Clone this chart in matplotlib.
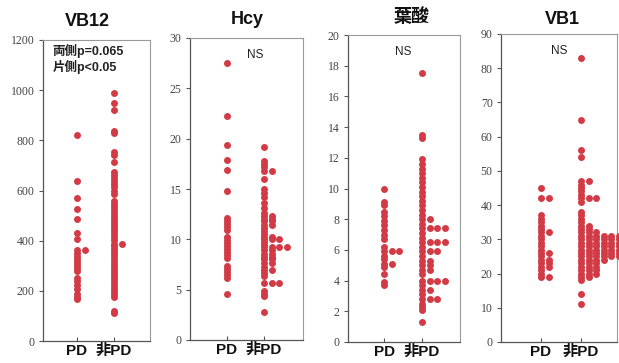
import matplotlib.pyplot as plt
import numpy as np


# Values; a repeated value is a dot stacked
# to the right of the first one.
groups = ['PD', '非PD']

vb12_pd = [822, 636, 570, 527, 485, 432, 405, 364, 364, 350, 338, 326, 314,
           302, 290, 278, 252, 240, 222, 208, 188, 176, 168]
vb12_nonpd = [987, 950, 919, 836, 830, 755, 743, 713, 673, 660, 648, 636,
              624, 612, 600, 587, 558, 546, 534, 522, 510, 498, 486, 474,
              462, 450, 438, 426, 414, 402, 388, 388, 378, 366, 354, 342,
              330, 318, 306, 294, 282, 270, 258, 246, 234, 222, 210, 198,
              186, 174, 120, 112]

hcy_pd = [27.5, 22.3, 19.4, 17.9, 16.9, 14.8, 12.1, 11.8, 11.5, 11.2, 10.9,
          10.2, 9.9, 9.6, 9.3, 9.0, 8.7, 8.4, 8.1, 7.4, 7.1, 6.8, 6.5, 6.2,
          4.6]
hcy_nonpd = [19.2, 17.8, 17.5, 17.2, 16.8, 16.8, 16.0, 15.0, 14.6, 14.2,
             13.6, 13.1, 12.6, 12.3, 12.3, 12.0, 12.0, 11.8, 11.8, 11.4, 11.4,
             11.1, 10.8, 10.5, 10.2, 10.2, 10.0, 10.0, 10.0, 9.7, 9.4,
             9.2, 9.2, 9.2, 9.2, 8.9, 8.9, 8.5, 8.5, 8.2, 8.2, 8.0, 8.0,
             7.6, 7.6, 7.3, 7.0, 7.0, 6.7, 6.4, 5.7, 5.7, 5.7, 4.9, 4.6, 4.4,
             2.8]

folate_pd = [10.0, 9.1, 8.9, 8.5, 8.2, 7.9, 7.6, 7.3, 7.0, 6.7, 6.2, 5.9, 5.9,
             5.9, 5.6, 5.4, 5.1, 5.1, 4.9, 4.4, 3.9, 3.7]
folate_nonpd = [17.5, 13.5, 13.3, 11.9, 11.6, 11.3, 11.0, 10.7, 10.4, 10.1,
                9.8, 9.5, 9.2, 8.9, 8.6, 8.3, 8.0, 8.0, 7.7, 7.4, 7.4, 7.4,
                7.4, 7.1, 6.8, 6.5, 6.5, 6.5, 6.5, 6.2, 5.9, 5.9, 5.9, 5.6,
                5.3, 5.3, 5.0, 5.0, 4.7, 4.7, 4.4, 4.0, 4.0, 4.0, 4.0, 3.7,
                3.4, 3.4, 3.1, 2.8, 2.8, 2.8, 2.5, 2.3, 2.1, 1.3]

vb1_pd = [45, 42, 42, 37, 36, 35, 34, 33, 32, 32, 31, 30, 29, 28, 27, 26, 26,
          25, 24, 24, 23, 23, 22, 22, 21, 20, 19, 19]
vb1_nonpd = [83, 65, 56, 54, 47, 47, 46, 45, 44, 43, 42, 42, 42, 41, 38, 37,
             36, 35, 34, 34, 33, 33, 32, 32, 32,
             31, 31, 31, 31, 31, 31, 30, 30, 30, 30, 30, 30,
             29, 29, 29, 29, 29, 29, 28, 28, 28, 28, 28, 28,
             27, 27, 27, 27, 27, 27, 26, 26, 26, 26, 26, 26,
             25, 25, 25, 25, 25, 25, 24, 24, 24, 24,
             23, 23, 23, 22, 22, 22, 21, 21, 21, 20, 20, 20,
             19, 19, 18, 14, 11]

titles = ['VB12', 'Hcy', '葉酸', 'VB1']
notes = ['両側p=0.065\n片側p<0.05', 'NS', 'NS', 'NS']
y_max = [1200, 30, 20, 90]
y_step = [200, 5, 2, 10]
data = [(vb12_pd, vb12_nonpd), (hcy_pd, hcy_nonpd),
        (folate_pd, folate_nonpd), (vb1_pd, vb1_nonpd)]

W, H = 619, 363
fig = plt.figure(figsize=(W / 100, H / 100), dpi=100)

# axes boxes in pixels: left, right, top, bottom
boxes = [(43, 150, 40, 341), (190, 303, 38, 340),
         (348, 460, 35, 342), (501, 617, 34, 342)]
xlims = [(0.08, 2.97), (0.0, 3.05), (0.05, 3.0), (0.0, 2.9)]
title_x = [87, 247, 412, 562]
title_y = [22, 20, 17, 19]
note_x = [0.09, 1.76, 1.5, 1.45]

dot_color = '#d23b45'
label_font = ['Liberation Sans', 'Noto Sans CJK JP']


def stack_index(vals):
    # how many times this value was already seen -> column number
    seen = {}
    out = []
    for v in vals:
        out.append(seen.get(v, 0))
        seen[v] = seen.get(v, 0) + 1
    return np.array(out)


for i in range(4):
    l, r, t, b = boxes[i]
    ax = fig.add_axes([l / W, 1 - b / H, (r - l) / W, (b - t) / H])
    ax.set_xlim(*xlims[i])
    ax.set_ylim(0, y_max[i])

    # column step: about 7.6 px, in data units
    step = 7.6 * (xlims[i][1] - xlims[i][0]) / (r - l)

    for g, vals in enumerate(data[i]):
        vals = np.array(vals, dtype=float)
        k = stack_index(list(vals))
        ax.scatter(g + 1 + k * step, vals, s=25, color=dot_color,
                   linewidths=0, clip_on=False, zorder=3)

    ax.set_yticks(np.arange(0, y_max[i] + 1, y_step[i]))
    ax.set_yticklabels([str(v) for v in range(0, y_max[i] + 1, y_step[i])],
                       family='Liberation Serif', fontsize=8.5, color='#444444')
    ax.set_xticks([1, 2])
    ax.set_xticklabels(groups, family=label_font, fontsize=11,
                       fontweight='bold', color='#111111')
    ax.tick_params(axis='y', direction='out', length=3, width=0.8,
                   color='#555555', pad=3)
    ax.tick_params(axis='x', direction='in', length=3, width=0.8,
                   color='#555555', pad=2)

    for side in ['left', 'bottom']:
        ax.spines[side].set_color('#555555')
        ax.spines[side].set_linewidth(0.9)
    for side in ['top', 'right']:
        ax.spines[side].set_color('#9a9a9a')
        ax.spines[side].set_linewidth(0.8)

    if i == 0:
        ax.text(note_x[i], 0.988, notes[i], transform=ax.transAxes,
                ha='left', va='top', family=label_font, fontsize=9,
                fontweight='bold', color='#222222', linespacing=1.25)
    else:
        ax.text(note_x[i], 0.965, notes[i], transform=ax.get_xaxis_transform(),
                ha='center', va='top', family=label_font, fontsize=8.5,
                color='#222222')

    fig.text(title_x[i] / W, 1 - title_y[i] / H, titles[i], ha='center',
             va='center', family=label_font, fontsize=13, fontweight='bold',
             color='#111111')

fig.savefig('out.png', dpi=100)
